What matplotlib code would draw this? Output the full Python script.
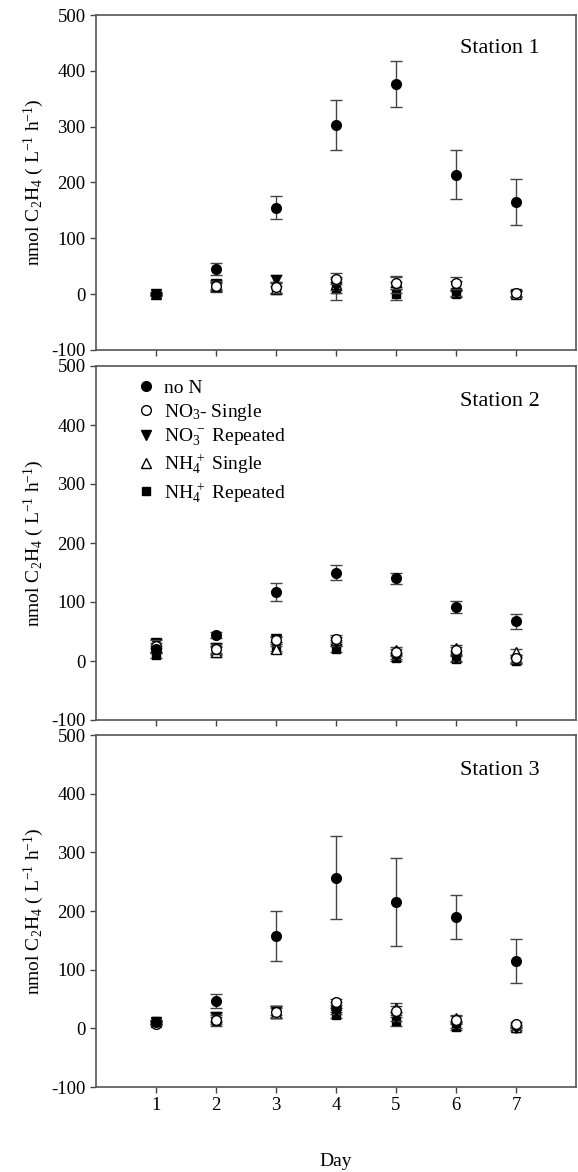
import numpy as np
import matplotlib.pyplot as plt

plt.rcParams['font.family'] = ['Liberation Serif', 'DejaVu Serif']
plt.rcParams['mathtext.fontset'] = 'custom'
plt.rcParams['mathtext.rm'] = 'Liberation Serif'
plt.rcParams['mathtext.it'] = 'Liberation Serif'
plt.rcParams['axes.unicode_minus'] = False

days = [1, 2, 3, 4, 5, 6, 7]
stations = ['Station 1', 'Station 2', 'Station 3']
series_labels = ['no N', 'NO$_3$- Single', 'NO$_3^{\\,-}$ Repeated',
                 'NH$_4^{\\,+}$ Single', 'NH$_4^{\\,+}$ Repeated']

# station 1
s1_non = [0, 45, 155, 303, 377, 214, 165]
s1_non_err = [3, 10, 20, 45, 41, 44, 41]
s1_no3s = [0, 15, 12, 28, 20, 20, 2]
s1_no3s_err = [2, 8, 10, 10, 10, 10, 5]
s1_no3r = [0, 18, 25, 12, 12, 2, 0]
s1_no3r_err = [2, 8, 10, 10, 10, 5, 5]
s1_nh4s = [0, 14, 10, 18, 22, 15, 0]
s1_nh4s_err = [2, 8, 10, 10, 10, 8, 5]
s1_nh4r = [0, 12, 12, 10, 0, 0, 0]
s1_nh4r_err = [2, 8, 10, 20, 10, 5, 5]

# station 2
s2_non = [20, 44, 117, 150, 140, 92, 67]
s2_non_err = [5, 5, 15, 12, 10, 10, 12]
s2_no3s = [25, 20, 35, 38, 15, 18, 5]
s2_no3s_err = [10, 8, 6, 6, 6, 6, 6]
s2_no3r = [30, 22, 38, 30, 8, 5, 2]
s2_no3r_err = [8, 8, 5, 5, 5, 5, 5]
s2_nh4s = [22, 15, 20, 35, 18, 22, 15]
s2_nh4s_err = [8, 8, 6, 6, 5, 5, 5]
s2_nh4r = [10, 18, 25, 20, 5, 3, 0]
s2_nh4r_err = [5, 8, 8, 5, 5, 5, 5]

# station 3
s3_non = [10, 46, 157, 257, 215, 190, 115]
s3_non_err = [5, 12, 43, 70, 75, 38, 38]
s3_no3s = [8, 15, 28, 45, 30, 15, 8]
s3_no3s_err = [3, 8, 10, 5, 8, 6, 3]
s3_no3r = [10, 20, 30, 30, 20, 5, 0]
s3_no3r_err = [3, 8, 8, 5, 8, 5, 3]
s3_nh4s = [10, 18, 26, 40, 35, 18, 3]
s3_nh4s_err = [3, 8, 8, 5, 8, 5, 3]
s3_nh4r = [12, 12, 28, 23, 12, 2, 0]
s3_nh4r_err = [3, 8, 10, 5, 8, 5, 3]

data = [
    [(s1_non, s1_non_err), (s1_no3s, s1_no3s_err), (s1_no3r, s1_no3r_err),
     (s1_nh4s, s1_nh4s_err), (s1_nh4r, s1_nh4r_err)],
    [(s2_non, s2_non_err), (s2_no3s, s2_no3s_err), (s2_no3r, s2_no3r_err),
     (s2_nh4s, s2_nh4s_err), (s2_nh4r, s2_nh4r_err)],
    [(s3_non, s3_non_err), (s3_no3s, s3_no3s_err), (s3_no3r, s3_no3r_err),
     (s3_nh4s, s3_nh4s_err), (s3_nh4r, s3_nh4r_err)],
]

# marker, facecolor, size
styles = [('o', 'black', 7), ('o', 'white', 7), ('v', 'black', 7),
          ('^', 'white', 7), ('s', 'black', 6)]

W, H = 578, 1172
fig = plt.figure(figsize=(W / 100, H / 100), dpi=100)

# (top, bottom) in pixels
panels_px = [(15, 350), (366, 720), (735, 1087)]
left_px, right_px = 96, 576

axes = []
for top, bot in panels_px:
    ax = fig.add_axes([left_px / W, 1 - bot / H, (right_px - left_px) / W, (bot - top) / H])
    axes.append(ax)

for i, ax in enumerate(axes):
    # plot in reverse so "no N" sits on top
    for j in range(4, -1, -1):
        vals, errs = data[i][j]
        m, fc, ms = styles[j]
        ax.errorbar(days, vals, yerr=errs, fmt=m, mfc=fc, mec='black', mew=1.0,
                    ms=ms, ecolor='#444444', elinewidth=1.0, capsize=4, capthick=1.0,
                    label=series_labels[j], zorder=3 + (4 - j))
    ax.set_xlim(0, 8)
    ax.set_ylim(-100, 500)
    ax.set_xticks(days)
    ax.set_yticks([-100, 0, 100, 200, 300, 400, 500])
    ax.tick_params(direction='out', length=4, width=1, colors='#444444',
                   labelcolor='black', labelsize=13.5)
    for sp in ax.spines.values():
        sp.set_color('#555555')
        sp.set_linewidth(1.2)
    ax.set_ylabel('nmol C$_2$H$_4$ ( L$^{-1}$ h$^{-1}$)', fontsize=14, labelpad=4)
    ax.text(0.925, 0.90, stations[i], transform=ax.transAxes, ha='right', va='center',
            fontsize=16)
    if i < 2:
        ax.tick_params(labelbottom=False)

axes[2].set_xlabel('Day', fontsize=14, labelpad=28)

h, l = axes[1].get_legend_handles_labels()
order = [4, 3, 2, 1, 0]
h = [h[k][0] for k in order]
l = [l[k] for k in order]
axes[1].legend(h, l, loc='upper left', frameon=False, fontsize=14,
               handletextpad=0.5, labelspacing=0.22, borderaxespad=0.3,
               handlelength=0.8, bbox_to_anchor=(0.06, 1.0))

fig.savefig('out.png', dpi=100)
